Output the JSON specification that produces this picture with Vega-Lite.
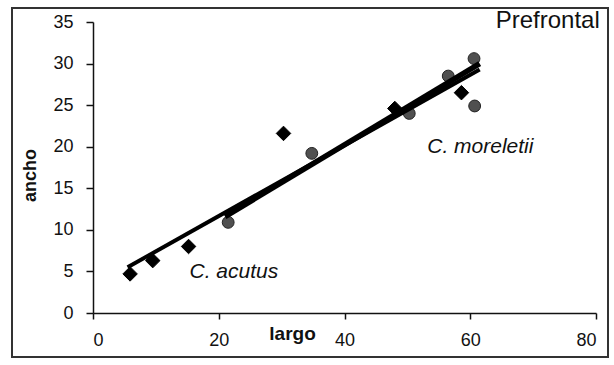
{
  "$schema": "https://vega.github.io/schema/vega-lite/v6.json",
  "width": 596,
  "height": 349,
  "autosize": {"type": "none"},
  "padding": {"left": 12, "top": 8, "right": 6, "bottom": 8},
  "background": "white",
  "config": {
    "view": {"stroke": "#333333", "strokeWidth": 2},
    "font": "Liberation Sans",
    "axis": {"grid": false, "domainColor": "#111111", "domainWidth": 1.5, "tickColor": "#111111", "tickWidth": 1.5, "labelColor": "#111111", "titleColor": "#111111", "labelFont": "Liberation Sans", "titleFont": "Liberation Sans"}
  },
  "datasets": {
    "points": [
      {"species": "C. acutus", "largo": 5.9, "ancho": 4.7},
      {"species": "C. acutus", "largo": 9.5, "ancho": 6.3},
      {"species": "C. acutus", "largo": 15.2, "ancho": 8.0},
      {"species": "C. acutus", "largo": 30.3, "ancho": 21.6},
      {"species": "C. acutus", "largo": 48.0, "ancho": 24.6},
      {"species": "C. acutus", "largo": 58.6, "ancho": 26.5},
      {"species": "C. moreletii", "largo": 21.5, "ancho": 10.9},
      {"species": "C. moreletii", "largo": 34.8, "ancho": 19.2},
      {"species": "C. moreletii", "largo": 50.3, "ancho": 24.0},
      {"species": "C. moreletii", "largo": 56.5, "ancho": 28.5},
      {"species": "C. moreletii", "largo": 60.6, "ancho": 30.6},
      {"species": "C. moreletii", "largo": 60.7, "ancho": 24.9}
    ],
    "fits": [
      {"species": "C. acutus", "largo": 5.5, "ancho": 5.5},
      {"species": "C. acutus", "largo": 61.5, "ancho": 29.3},
      {"species": "C. moreletii", "largo": 21.0, "ancho": 11.6},
      {"species": "C. moreletii", "largo": 61.5, "ancho": 30.0}
    ],
    "labels": [
      {"label": "C. acutus", "largo": 22.4, "ancho": 4.9},
      {"label": "C. moreletii", "largo": 61.6, "ancho": 20.0}
    ],
    "title": [
      {"label": "Prefrontal", "largo": 80.6, "ancho": 35.1}
    ]
  },
  "layer": [
    {
      "data": {"name": "points"},
      "mark": {"type": "point", "filled": true, "strokeWidth": 1, "opacity": 1},
      "encoding": {
        "x": {
          "field": "largo", "type": "quantitative",
          "scale": {"domain": [0, 80], "range": [81, 584], "nice": false, "zero": false},
          "axis": {
            "orient": "bottom", "offset": -44, "values": [0, 20, 40, 60, 80],
            "tickSize": 6, "labelFontSize": 18, "labelPadding": 12,
            "title": "largo", "titleFontSize": 19, "titleFontWeight": "bold",
            "titleX": 280, "titleY": 20, "titleBaseline": "middle", "titleAlign": "center"
          }
        },
        "y": {
          "field": "ancho", "type": "quantitative",
          "scale": {"domain": [0, 35], "range": [305, 14], "nice": false, "zero": false},
          "axis": {
            "orient": "left", "offset": -81, "values": [0, 5, 10, 15, 20, 25, 30, 35],
            "tickSize": 7, "labelFontSize": 18, "labelPadding": 13,
            "title": "ancho", "titleFontSize": 18, "titleFontWeight": "bold",
            "titleX": -63, "titleY": 167, "titleAngle": -90, "titleBaseline": "middle", "titleAlign": "center"
          }
        },
        "shape": {"field": "species", "type": "nominal", "scale": {"domain": ["C. acutus", "C. moreletii"], "range": ["diamond", "circle"]}, "legend": null},
        "color": {"field": "species", "type": "nominal", "scale": {"domain": ["C. acutus", "C. moreletii"], "range": ["#000000", "#505050"]}, "legend": null},
        "stroke": {"field": "species", "type": "nominal", "scale": {"domain": ["C. acutus", "C. moreletii"], "range": ["#000000", "#222222"]}, "legend": null},
        "size": {"field": "species", "type": "nominal", "scale": {"domain": ["C. acutus", "C. moreletii"], "range": [210, 140]}, "legend": null}
      }
    },
    {
      "data": {"name": "fits"},
      "mark": {"type": "line", "color": "#000000"},
      "encoding": {
        "x": {"field": "largo", "type": "quantitative"},
        "y": {"field": "ancho", "type": "quantitative"},
        "detail": {"field": "species", "type": "nominal"},
        "strokeWidth": {"field": "species", "type": "nominal", "scale": {"domain": ["C. acutus", "C. moreletii"], "range": [4, 5.5]}, "legend": null}
      }
    },
    {
      "data": {"name": "labels"},
      "mark": {"type": "text", "fontStyle": "italic", "fontSize": 21, "color": "#111111", "align": "center", "baseline": "middle"},
      "encoding": {
        "x": {"field": "largo", "type": "quantitative"},
        "y": {"field": "ancho", "type": "quantitative"},
        "text": {"field": "label", "type": "nominal"}
      }
    },
    {
      "data": {"name": "title"},
      "mark": {"type": "text", "fontSize": 24, "color": "#111111", "align": "right", "baseline": "middle"},
      "encoding": {
        "x": {"field": "largo", "type": "quantitative"},
        "y": {"field": "ancho", "type": "quantitative"},
        "text": {"field": "label", "type": "nominal"}
      }
    }
  ]
}
